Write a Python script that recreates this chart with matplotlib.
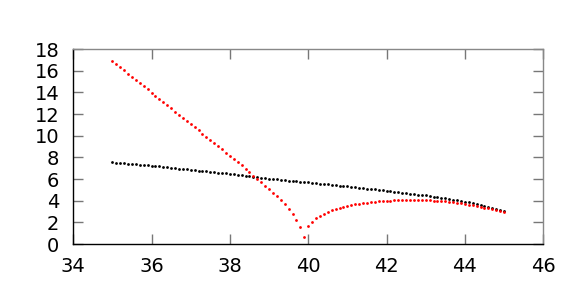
import numpy as np
import matplotlib
matplotlib.use("Agg")
from matplotlib import pyplot as plt

# sample grid, every 0.1 from 35 to 45
x = np.linspace(35, 45, 101)

black = [7.55, 7.52, 7.49, 7.46, 7.43, 7.40, 7.36, 7.33, 7.30, 7.26,
         7.23, 7.19, 7.16, 7.12, 7.08, 7.05, 7.01, 6.97, 6.94, 6.90,
         6.86, 6.82, 6.78, 6.74, 6.71, 6.67, 6.63, 6.59, 6.55, 6.51,
         6.47, 6.42, 6.38, 6.33, 6.29, 6.24, 6.20, 6.15, 6.11, 6.07,
         6.03, 5.99, 5.96, 5.92, 5.89, 5.85, 5.82, 5.78, 5.75, 5.71,
         5.68, 5.64, 5.61, 5.57, 5.54, 5.50, 5.46, 5.43, 5.39, 5.36,
         5.32, 5.28, 5.24, 5.20, 5.16, 5.12, 5.08, 5.04, 5.00, 4.96,
         4.92, 4.88, 4.83, 4.79, 4.74, 4.70, 4.66, 4.61, 4.57, 4.52,
         4.48, 4.43, 4.38, 4.33, 4.27, 4.22, 4.16, 4.10, 4.04, 3.98,
         3.92, 3.85, 3.78, 3.71, 3.63, 3.55, 3.46, 3.36, 3.26, 3.15,
         3.03]

red = [16.90, 16.61, 16.32, 16.02, 15.73, 15.44, 15.15, 14.86, 14.57, 14.27,
       13.98, 13.69, 13.40, 13.11, 12.82, 12.52, 12.23, 11.94, 11.65, 11.36,
       11.07, 10.77, 10.48, 10.19, 9.90, 9.61, 9.32, 9.02, 8.73, 8.44,
       8.15, 7.85, 7.55, 7.25, 6.93, 6.62, 6.30, 6.02, 5.70, 5.38,
       5.06, 4.73, 4.40, 4.05, 3.68, 3.27, 2.78, 2.25, 1.54, 0.65,
       1.66, 2.06, 2.37, 2.61, 2.80, 2.97, 3.11, 3.24, 3.36, 3.46,
       3.55, 3.62, 3.68, 3.73, 3.78, 3.83, 3.87, 3.91, 3.94, 3.97,
       3.99, 4.01, 4.02, 4.03, 4.04, 4.05, 4.05, 4.05, 4.05, 4.04,
       4.03, 4.02, 4.00, 3.98, 3.96, 3.93, 3.90, 3.86, 3.81, 3.76,
       3.70, 3.64, 3.57, 3.50, 3.43, 3.36, 3.28, 3.20, 3.12, 3.03,
       2.94]

xticks = [34, 36, 38, 40, 42, 44, 46]
yticks = [0, 2, 4, 6, 8, 10, 12, 14, 16, 18]

fig = plt.figure(figsize=(5.81, 2.91), dpi=100)
ax = fig.add_axes([0.126, 0.1615, 0.809, 0.670])

ax.plot(x, black, linestyle='none', marker='o', markersize=2.0, color='black', markeredgewidth=0)
ax.plot(x, red, linestyle='none', marker='o', markersize=2.0, color='#ff0000', markeredgewidth=0)

ax.set_xlim(34, 46)
ax.set_ylim(0, 18)
ax.set_xticks(xticks)
ax.set_yticks(yticks)
ax.tick_params(direction='in', length=7, width=1, color='#777777', labelsize=14,
               top=True, right=True, labelcolor='black')
ax.tick_params(axis='x', pad=9)
ax.tick_params(axis='y', pad=10)
ax.spines['left'].set_color('black')
ax.spines['bottom'].set_color('black')
ax.spines['top'].set_color('#888888')
ax.spines['right'].set_color('#888888')
for s in ax.spines.values():
    s.set_linewidth(1)

plt.savefig('out.png', dpi=100)
